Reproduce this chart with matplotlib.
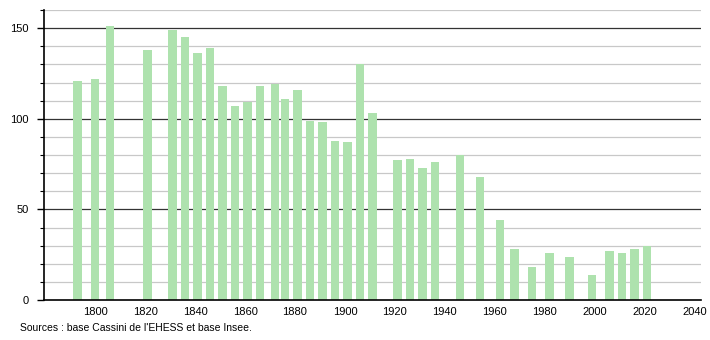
import numpy as np
import matplotlib
matplotlib.use('Agg')
import matplotlib.pyplot as plt
from matplotlib.ticker import MultipleLocator

years = [1793, 1800, 1806, 1821, 1831, 1836, 1841, 1846, 1851, 1856,
         1861, 1866, 1872, 1876, 1881, 1886, 1891, 1896, 1901, 1906,
         1911, 1921, 1926, 1931, 1936, 1946, 1954, 1962, 1968, 1975,
         1982, 1990, 1999, 2006, 2011, 2016, 2021]
population = [121, 122, 151, 138, 149, 145, 136, 139, 118, 107,
              109, 118, 119, 111, 116, 99, 98, 88, 87, 130,
              103, 77, 78, 73, 76, 80, 68, 44, 28, 18,
              26, 24, 14, 27, 26, 28, 30]
xticks = [1800, 1820, 1840, 1860, 1880, 1900, 1920, 1940, 1960, 1980, 2000, 2020, 2040]
source_text = "Sources : base Cassini de l'EHESS et base Insee."

plt.rcParams['font.family'] = ['Liberation Sans', 'DejaVu Sans']

fig = plt.figure(figsize=(7.1, 3.4), dpi=100)
ax = fig.add_axes([0.062, 0.1176, 0.925, 0.853])

# grid: light every 10, dark every 50
for v in range(10, 170, 10):
    if v % 50 == 0:
        ax.axhline(v, color='#333333', lw=0.9, zorder=1)
    else:
        ax.axhline(v, color='#c8c8c8', lw=0.9, zorder=1)

ax.bar(years, population, width=3.4, color='#aee2ae', zorder=2)

ax.set_xlim(1779.5, 2042.5)
ax.set_ylim(0, 160)
ax.set_xticks(xticks)
ax.set_yticks([0, 50, 100, 150])
ax.yaxis.set_minor_locator(MultipleLocator(10))
ax.tick_params(axis='x', length=0, labelsize=8, pad=5)
ax.tick_params(axis='y', which='major', length=5, width=1, labelsize=8, pad=6)
ax.tick_params(axis='y', which='minor', length=3, width=0.8)

for s in ['top', 'right']:
    ax.spines[s].set_visible(False)
ax.spines['left'].set_linewidth(1.2)
ax.spines['bottom'].set_linewidth(1.2)
ax.spines['left'].set_zorder(3)
ax.spines['bottom'].set_zorder(3)

fig.text(0.028, 0.035, source_text, fontsize=7.5, ha='left', va='center')

fig.savefig('out.png', dpi=100)
